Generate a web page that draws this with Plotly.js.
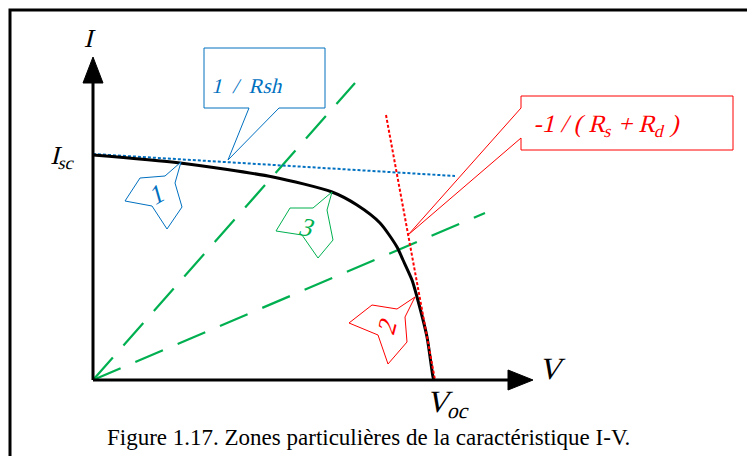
<!DOCTYPE html>
<html>
<head>
<meta charset="utf-8">
<script src="https://cdn.plot.ly/plotly-3.0.1.min.js"></script>
<style>html,body{margin:0;padding:0;background:#fff;}#chart{width:747px;height:456px;}</style>
</head>
<body>
<div id="chart"></div>
<script>
// I-V characteristic (arbitrary units, origin at V=0, I=0)
const curveV = [0, 87, 180, 239, 264, 287, 304, 310, 319, 324, 334, 340, 341];
const curveI = [225, 217, 203, 188, 175, 157, 133, 120, 100, 83, 43, 3, 0];
// tangent 1/Rsh near Isc
const rshV = [0, 362];
const rshI = [226, 204];
// tangent -1/(Rs+Rd) near Voc
const rsV = [293, 342];
const rsI = [265, 0];
// zone 3 boundaries through the origin
const zoneAV = [0, 262];
const zoneAI = [0, 297];
const zoneBV = [0, 392];
const zoneBI = [0, 167];
// axis extents
const vAxisEnd = 440;
const iAxisEnd = 323;

const BLUE = '#0070C0', GREEN = '#00B050', RED = '#FF0000';
const SERIF = 'Liberation Serif';

// page pixel -> data coordinates helper (for decorations)
const X = px => px - 93;
const Y = py => 380 - py;
function path(pts) {
  return 'M ' + pts.map(p => X(p[0]) + ',' + Y(p[1])).join(' L ') + ' Z';
}

const traces = [
  {x: zoneAV, y: zoneAI, mode: 'lines', line: {color: GREEN, width: 2.2, dash: '30px,16px'}},
  {x: zoneBV, y: zoneBI, mode: 'lines', line: {color: GREEN, width: 2.2, dash: '30px,16px'}},
  {x: rshV, y: rshI, mode: 'lines', line: {color: BLUE, width: 2, dash: '3px,2px'}},
  {x: curveV, y: curveI, mode: 'lines', line: {color: 'black', width: 3, shape: 'spline', smoothing: 0.7}},
  {x: rsV, y: rsI, mode: 'lines', line: {color: RED, width: 2, dash: '3px,2px'}}
];

const shapes = [
  {type: 'rect', xref: 'x', yref: 'y', x0: X(10), y0: Y(10), x1: X(770), y1: Y(480), line: {color: 'black', width: 3}},
  {type: 'line', xref: 'x', yref: 'y', x0: 0, y0: 0, x1: 0, y1: iAxisEnd - 26, line: {color: 'black', width: 3}},
  {type: 'path', xref: 'x', yref: 'y', path: `M -10,${iAxisEnd - 26} L 10,${iAxisEnd - 26} L 0,${iAxisEnd} Z`, fillcolor: 'black', line: {color: 'black', width: 1}},
  {type: 'line', xref: 'x', yref: 'y', x0: 0, y0: 0, x1: vAxisEnd - 25, y1: 0, line: {color: 'black', width: 3}},
  {type: 'path', xref: 'x', yref: 'y', path: `M ${vAxisEnd - 25},10 L ${vAxisEnd - 25},-10 L ${vAxisEnd},0 Z`, fillcolor: 'black', line: {color: 'black', width: 1}},
  // callouts
  {type: 'path', xref: 'x', yref: 'y', layer: 'above', fillcolor: 'white', line: {color: BLUE, width: 1},
   path: path([[204,48],[325,48],[325,108],[279,108],[228,160],[249,108],[204,108]])},
  {type: 'path', xref: 'x', yref: 'y', layer: 'above', fillcolor: 'white', line: {color: RED, width: 1},
   path: path([[521,96],[733,96],[733,150],[521,150],[521,138],[408,235],[521,108]])},
  {type: 'path', xref: 'x', yref: 'y', layer: 'above', fillcolor: 'white', line: {color: BLUE, width: 1},
   path: path([[140,178],[165,176],[181,162],[175,183],[182,207],[167,229],[152,206],[125,201]])},
  {type: 'path', xref: 'x', yref: 'y', layer: 'above', fillcolor: 'white', line: {color: GREEN, width: 1},
   path: path([[290,208],[313,208],[332,192],[327,210],[333,240],[318,258],[302,235],[276,231]])},
  {type: 'path', xref: 'x', yref: 'y', layer: 'above', fillcolor: 'white', line: {color: RED, width: 1},
   path: path([[372,305],[397,309],[415,297],[405,317],[407,342],[388,364],[378,335],[349,323]])}
];

function txt(text, px, py, size, color, italic, extra) {
  return Object.assign({text: text, x: X(px), y: Y(py), xref: 'x', yref: 'y', showarrow: false,
    font: {family: SERIF, size: size, color: color}, name: italic ? 'it' : 'up'}, extra || {});
}

const annotations = [
  txt('I', 90, 38, 26, 'black', true),
  txt('I<sub>sc</sub>', 64, 157, 26, 'black', true),
  txt('V', 552, 368, 31, 'black', true),
  txt('V<sub>oc</sub>', 449, 404, 31, 'black', true),
  txt('1&nbsp;&nbsp;/&nbsp;&nbsp;Rsh', 248, 86, 21, BLUE, true),
  txt('-1 / ( R<sub>s</sub> + R<sub>d</sub> )', 607, 125, 25, RED, true),
  txt('1', 157, 194, 26, BLUE, true, {textangle: -30}),
  txt('3', 307, 227, 26, GREEN, true, {textangle: 10}),
  txt('2', 387, 326, 26, RED, true, {textangle: -75}),
  txt('Figure 1.17. Zones particulières de la caractéristique I-V.', 368, 437, 23, 'black', false)
];

const layout = {
  width: 747, height: 456,
  margin: {l: 0, r: 0, t: 0, b: 0, pad: 0},
  paper_bgcolor: 'white', plot_bgcolor: 'white',
  showlegend: false,
  xaxis: {range: [-93, 654], visible: false, fixedrange: true},
  yaxis: {range: [-76, 380], visible: false, fixedrange: true},
  shapes: shapes,
  annotations: annotations
};

Plotly.newPlot('chart', traces, layout, {staticPlot: true, displayModeBar: false}).then(gd => {
  // the serif italic face is not installed: slant the upright serif glyphs instead
  const texts = gd.querySelectorAll('.annotation-text');
  texts.forEach((t, i) => {
    if (annotations[i] && annotations[i].name === 'it') {
      t.style.transformBox = 'fill-box';
      t.style.transformOrigin = 'center';
      t.style.transform = 'skewX(-14deg)';
    }
  });
});
</script>
</body>
</html>
